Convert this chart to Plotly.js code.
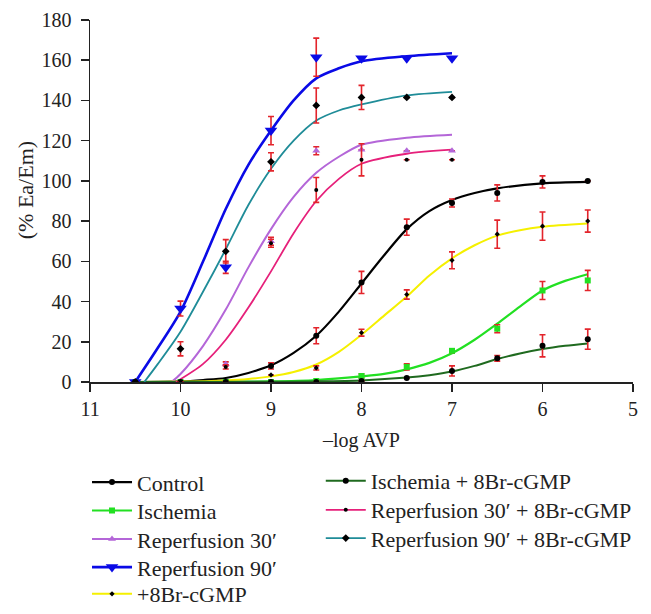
<!DOCTYPE html>
<html>
<head>
<meta charset="utf-8">
<script src="https://cdn.plot.ly/plotly-3.0.1.min.js"></script>
<style>html,body{margin:0;padding:0;background:#fff;}</style>
</head>
<body>
<div id="chart" style="width:651px;height:614px;"></div>
<script>
// ---- measured data points (x = -log AVP) ----
const xFull = [10.5, 10, 9.5, 9, 8.5, 8, 7.5, 7, 6.5, 6, 5.5];
const xRep  = [10.5, 10, 9.5, 9, 8.5, 8, 7.5, 7];

const controlY   = [0, 0, 0, 8, 23, 49.5, 77, 89, 94, 99.5, 100];
const controlErr = [0, 0, 0, 1.5, 4, 5.5, 4, 2, 4, 3, 0];

const ischemiaY   = [0, 0, 0, 0, 0.5, 3, 7.5, 15.5, 26.5, 45.5, 50.5];
const ischemiaErr = [0, 0, 0, 0, 0, 1, 1.5, 1, 2, 4.5, 5];

const rep30Y   = [0, 0, 9, 70, 115, 115.5, 115, 115];
const rep30Err = [0, 0, 1, 2, 2, 0, 0, 0];

const rep90Y   = [0, 36.5, 57, 125, 161.5, 161, 161, 161];
const rep90Err = [0, 3.7, 3, 7, 9.5, 0, 0, 0];

const brY   = [0, 0, 0, 3.5, 7, 24.5, 43.5, 60.5, 73.5, 77.5, 80];
const brErr = [0, 0, 0, 0, 1, 1.7, 2.3, 4.2, 7, 7, 5.5];

const ischBrY   = [0, 0, 0, 0, 0, 0.5, 2, 5.5, 11.8, 18, 21.3];
const ischBrErr = [0, 0, 0, 0, 0, 0, 0, 2.5, 1.4, 5.5, 5];

const rep30BrY   = [0, 0, 7.5, 69, 95.5, 110.5, 110.5, 110.5];
const rep30BrErr = [0, 0, 1, 2, 6.2, 8, 0, 0];

const rep90BrY   = [0, 16.5, 65, 109.5, 137.5, 141.5, 141.5, 141.5];
const rep90BrErr = [0, 3.5, 5.8, 4.5, 8.7, 6, 0, 0];

// ---- fitted curves ----
const controlCx = [10.5, 10, 9.75, 9.5, 9.25, 9, 8.75, 8.5, 8.25, 8, 7.75, 7.5, 7.25, 7, 6.75, 6.5, 6, 5.5];
const controlCy = [0, 0.3, 1, 2, 4.5, 8.3, 14.5, 23, 35, 49, 63, 76, 85, 90.5, 94, 96.3, 98.8, 99.5];

const brCx = [10.5, 10, 9.5, 9.25, 9, 8.75, 8.5, 8.25, 8, 7.75, 7.5, 7.25, 7, 6.75, 6.5, 6.25, 6, 5.5];
const brCy = [0, 0.2, 0.8, 1.5, 2.8, 5, 8.7, 15, 23.5, 33, 42.5, 53, 61.5, 68, 72.8, 75.5, 77.2, 78.8];

const ischCx = [10.5, 9.5, 9, 8.5, 8, 7.75, 7.5, 7.25, 7, 6.75, 6.5, 6.25, 6, 5.75, 5.5];
const ischCy = [0, 0.1, 0.3, 1, 2.8, 4, 6.3, 9.5, 14.3, 21, 29, 37.5, 45.5, 50.3, 53.6];

const ischBrCx = [10.5, 9, 8.5, 8, 7.5, 7.25, 7, 6.75, 6.5, 6.25, 6, 5.75, 5.5];
const ischBrCy = [0, 0.1, 0.3, 0.8, 2.2, 3.4, 5.2, 8, 11.4, 14.2, 16.4, 18, 19.2];

const rep90Cx = [10.5, 10.25, 10, 9.75, 9.5, 9.25, 9, 8.75, 8.5, 8.25, 8, 7.5, 7];
const rep90Cy = [0, 17, 35, 60, 86, 108, 125, 140, 151, 156, 159.5, 162, 163.5];

const rep90BrCx = [10.4, 10.25, 10, 9.75, 9.5, 9.25, 9, 8.75, 8.5, 8.25, 8, 7.5, 7];
const rep90BrCy = [0, 9, 25, 45, 66, 88, 106, 120, 130, 135, 138, 142.5, 144.3];

const rep30Cx = [10.1, 10, 9.75, 9.5, 9.25, 9, 8.75, 8.5, 8.25, 8, 7.5, 7];
const rep30Cy = [0, 4, 18, 36, 57, 76, 92, 104, 112, 118, 121.5, 123];

const rep30BrCx = [10.05, 9.75, 9.5, 9.25, 9, 8.75, 8.5, 8.25, 8, 7.5, 7];
const rep30BrCy = [0, 9, 21, 37, 55, 74, 90, 101, 108.5, 113.5, 115.5];

const xTicks = [11, 10, 9, 8, 7, 6, 5];
const yTicks = [0, 20, 40, 60, 80, 100, 120, 140, 160, 180];

const names = ["Control", "Ischemia", "Reperfusion 30\u2032", "Reperfusion 90\u2032", "+8Br-cGMP",
               "Ischemia + 8Br-cGMP", "Reperfusion 30\u2032 + 8Br-cGMP", "Reperfusion 90\u2032 + 8Br-cGMP"];

const ERR = '#e3242b';
const series = [
  {name: names[0], cx: controlCx, cy: controlCy, x: xFull, y: controlY, e: controlErr, lc: '#000000', lw: 2.2, sym: 'circle', ms: 6, mc: '#000000', lms: 6},
  {name: names[1], cx: ischCx, cy: ischCy, x: xFull, y: ischemiaY, e: ischemiaErr, lc: '#22e022', lw: 2.2, sym: 'square', ms: 6, mc: '#22e022', lms: 6},
  {name: names[2], cx: rep30Cx, cy: rep30Cy, x: xRep, y: rep30Y, e: rep30Err, lc: '#b466d8', lw: 2, sym: 'triangle-up', ms: 7, mc: '#b466d8', lms: 7},
  {name: names[3], cx: rep90Cx, cy: rep90Cy, x: xRep, y: rep90Y, e: rep90Err, lc: '#0a0ae6', lw: 2.6, sym: 'triangle-down', ms: 11, mc: '#0a0ae6', lms: 11},
  {name: names[4], cx: brCx, cy: brCy, x: xFull, y: brY, e: brErr, lc: '#f5f000', lw: 2, sym: 'diamond', ms: 4, mc: '#000000', lms: 4},
  {name: names[5], cx: ischBrCx, cy: ischBrCy, x: xFull, y: ischBrY, e: ischBrErr, lc: '#1f6a1f', lw: 2, sym: 'circle', ms: 6, mc: '#000000', lms: 6},
  {name: names[6], cx: rep30BrCx, cy: rep30BrCy, x: xRep, y: rep30BrY, e: rep30BrErr, lc: '#e6207a', lw: 1.8, sym: 'circle', ms: 4, mc: '#000000', lms: 4},
  {name: names[7], cx: rep90BrCx, cy: rep90BrCy, x: xRep, y: rep90BrY, e: rep90BrErr, lc: '#1f8c98', lw: 1.8, sym: 'diamond', ms: 6, mc: '#000000', lms: 6}
];

// legend slots: two columns (paper coords)
const legendX = [-0.0055, -0.0055, -0.0055, -0.0055, -0.0055, 0.425, 0.425, 0.425];
const legendY = [-0.2771, -0.3555, -0.4345, -0.5119, -0.5856, -0.2735, -0.3536, -0.4318];

const traces = [];
series.forEach(s => {
  traces.push({
    type: 'scatter', mode: 'lines', x: s.cx, y: s.cy, showlegend: false, hoverinfo: 'skip',
    line: {color: s.lc, width: s.lw, shape: 'spline', smoothing: 0.8}
  });
});
series.forEach(s => {
  traces.push({
    type: 'scatter', mode: 'markers', x: s.x, y: s.y, showlegend: false,
    marker: {symbol: s.sym, size: s.ms, color: s.mc},
    error_y: {type: 'data', array: s.e, visible: true, color: ERR, thickness: 1.6, width: 3}
  });
});
series.forEach((s, i) => {
  traces.push({
    type: 'scatter', mode: 'lines+markers', x: [null], y: [null], name: s.name,
    legend: i === 0 ? 'legend' : 'legend' + (i + 1),
    line: {color: s.lc, width: s.lw}, marker: {symbol: s.sym, size: s.lms, color: s.mc}
  });
});

const FONT = 'Liberation Serif';
const layout = {
  width: 651, height: 614,
  margin: {l: 90, r: 18, t: 20, b: 232, autoexpand: false},
  paper_bgcolor: '#ffffff', plot_bgcolor: '#ffffff',
  font: {family: FONT, size: 20, color: '#222222'},
  showlegend: true,
  xaxis: {
    range: [11, 5], tickvals: xTicks, ticktext: xTicks.map(String),
    ticks: 'outside', ticklen: 8, tickwidth: 1.5, tickcolor: '#222',
    showline: true, linecolor: '#222', linewidth: 1.5, showgrid: false, zeroline: false,
    tickfont: {family: FONT, size: 20, color: '#222'},
    title: {text: '\u2013log AVP', font: {family: FONT, size: 20, color: '#222'}, standoff: 14}
  },
  yaxis: {
    range: [0, 180], tickvals: yTicks, ticktext: yTicks.map(String),
    ticks: 'outside', ticklen: 8, tickwidth: 1.5, tickcolor: '#222',
    showline: true, linecolor: '#222', linewidth: 1.5, showgrid: false, zeroline: false,
    tickfont: {family: FONT, size: 20, color: '#222'}, ticklabelstandoff: 5
  },
  annotations: [{
    text: '(% Ea/Em)', textangle: -90, xref: 'paper', yref: 'paper',
    x: -0.1195, y: 0.53, xanchor: 'center', yanchor: 'middle', showarrow: false,
    font: {family: FONT, size: 22, color: '#222'}
  }]
};
series.forEach((s, i) => {
  const key = i === 0 ? 'legend' : 'legend' + (i + 1);
  layout[key] = {
    x: legendX[i], xanchor: 'left', y: legendY[i], yanchor: 'middle',
    bgcolor: 'rgba(0,0,0,0)', borderwidth: 0, itemwidth: 40,
    font: {family: FONT, size: 22, color: '#222'}
  };
});

Plotly.newPlot('chart', traces, layout, {displayModeBar: false, staticPlot: true});
</script>
</body>
</html>
